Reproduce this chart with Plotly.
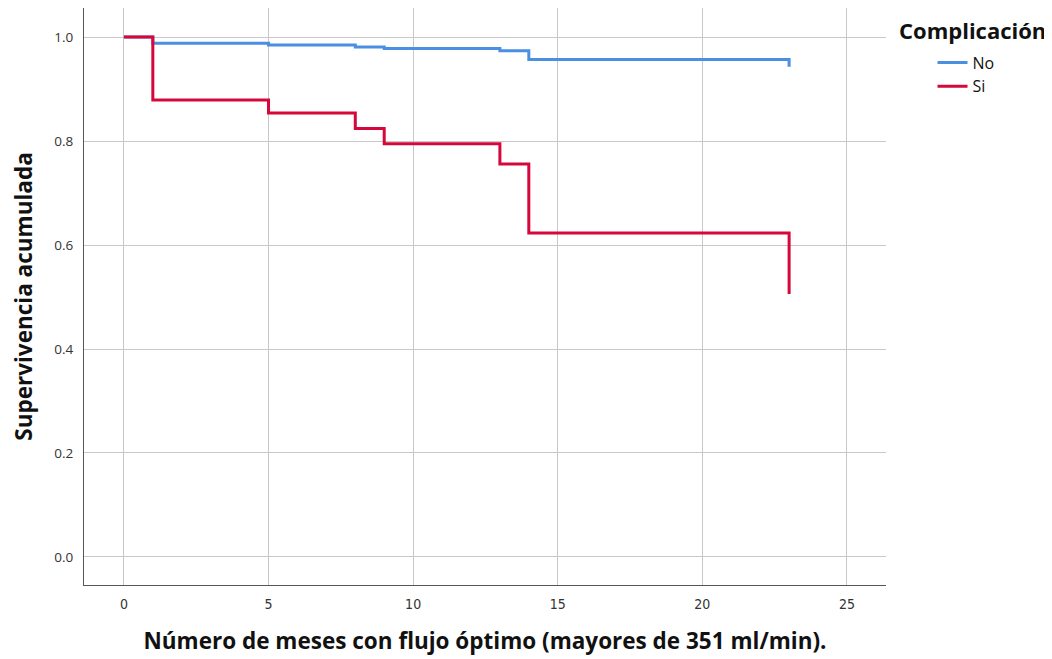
import plotly.graph_objects as go

# Kaplan-Meier step data (months, cumulative survival)
months_no = [0, 1, 5, 8, 9, 13, 14, 23, 23]
surv_no = [1.0, 0.988, 0.985, 0.981, 0.978, 0.974, 0.957, 0.957, 0.943]

months_si = [0, 1, 5, 8, 9, 13, 14, 23, 23]
surv_si = [1.0, 0.879, 0.854, 0.824, 0.795, 0.756, 0.623, 0.623, 0.506]

x_ticks = [0, 5, 10, 15, 20, 25]
y_ticks = [0.0, 0.2, 0.4, 0.6, 0.8, 1.0]
y_tick_labels = ["0.0", "0.2", "0.4", "0.6", "0.8", "1.0"]

fig = go.Figure()
fig.add_trace(go.Scatter(x=months_no, y=surv_no, mode="lines", name="No",
                         line=dict(color="#4a8fe2", width=3, shape="hv")))
fig.add_trace(go.Scatter(x=months_si, y=surv_si, mode="lines", name="Si",
                         line=dict(color="#d6083b", width=3, shape="hv")))

fig.update_layout(
    width=1052, height=659,
    margin=dict(l=76, r=174, t=0, b=82, autoexpand=False),
    paper_bgcolor="white", plot_bgcolor="white",
    font=dict(family="Open Sans", color="#222"),
    showlegend=True,
    legend=dict(
        x=1.058, y=0.935, xanchor="left", yanchor="top",
        font=dict(size=16, color="#111"),
        itemwidth=30, tracegroupgap=0, bgcolor="rgba(0,0,0,0)",
    ),
    annotations=[dict(
        text="<b>Complicación</b>", xref="paper", yref="paper",
        x=1.0137, y=0.962, xanchor="left", yanchor="middle", showarrow=False,
        font=dict(size=22, color="#111"),
    )],
)
fig.update_xaxes(
    range=[-1.38, 26.35], tickvals=x_ticks, automargin=False,
    showgrid=True, gridcolor="#c8c8c8", gridwidth=1.3,
    zeroline=False, showline=True, linecolor="#555", linewidth=1,
    ticks="", ticklabelstandoff=6,
    tickfont=dict(size=14, color="#333", family="Liberation Sans Narrow, DejaVu Sans Condensed"),
    title=dict(text="<b>Número de meses con flujo óptimo (mayores de 351 ml/min).</b>",
               font=dict(size=22.5, color="#111"), standoff=22),
)
fig.update_yaxes(
    range=[-0.054, 1.056], tickvals=y_ticks, ticktext=y_tick_labels, automargin=False,
    showgrid=True, gridcolor="#c8c8c8", gridwidth=1.3,
    zeroline=False, showline=True, linecolor="#555", linewidth=1,
    ticks="", ticklabelstandoff=7, tickfont=dict(size=13.5, color="#333"),
    title=dict(text="<b>Supervivencia acumulada</b>",
               font=dict(size=22.5, color="#111"), standoff=20),
)

fig.write_html("out.html")
